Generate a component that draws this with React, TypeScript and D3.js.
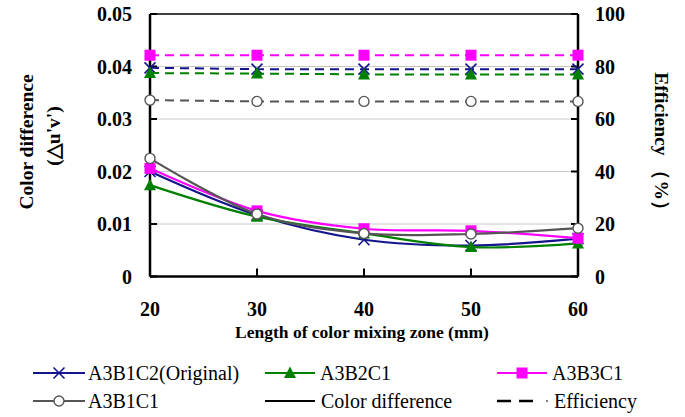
import React from "react";
import * as d3 from "d3";

const xValues = [20, 30, 40, 50, 60];
const leftTicks = [0, 0.01, 0.02, 0.03, 0.04, 0.05];
const leftTickLabels = ["0", "0.01", "0.02", "0.03", "0.04", "0.05"];
const rightTicks = [0, 20, 40, 60, 80, 100];

const seriesNames = ["A3B1C2(Original)", "A3B2C1", "A3B3C1", "A3B1C1"];
const seriesColors = ["#14148c", "#008000", "#ff00ff", "#555555"];
const seriesMarkers = ["x", "tri", "sq", "circ"];

const colorDiffA3B1C2 = [0.0200, 0.0117, 0.0070, 0.0059, 0.0072];
const colorDiffA3B2C1 = [0.0174, 0.0114, 0.0082, 0.0056, 0.0063];
const colorDiffA3B3C1 = [0.0206, 0.0125, 0.0091, 0.0087, 0.0073];
const colorDiffA3B1C1 = [0.0225, 0.0119, 0.0082, 0.0081, 0.0092];

const effA3B1C2 = [79.5, 79, 79, 79, 79];
const effA3B2C1 = [77.5, 77.3, 77, 77, 77];
const effA3B3C1 = [84.3, 84.3, 84.3, 84.3, 84.3];
const effA3B1C1 = [67.2, 66.7, 66.7, 66.7, 66.7];

const colorDiff = [colorDiffA3B1C2, colorDiffA3B2C1, colorDiffA3B3C1, colorDiffA3B1C1];
const efficiency = [effA3B1C2, effA3B2C1, effA3B3C1, effA3B1C1];

const L = 150, R = 578, T = 14, B = 276.5;
const FONT = '"Liberation Serif"';

function Marker({ type, x, y, color }: { type: string; x: number; y: number; color: string }) {
  const s = 5.5;
  if (type === "x")
    return (
      <g stroke={color} strokeWidth={1.6}>
        <line x1={x - s} y1={y - s} x2={x + s} y2={y + s} />
        <line x1={x - s} y1={y + s} x2={x + s} y2={y - s} />
      </g>
    );
  if (type === "tri")
    return <path d={`M${x},${y - 6.5}L${x + 6},${y + 5}L${x - 6},${y + 5}Z`} fill={color} />;
  if (type === "sq") return <rect x={x - 5.5} y={y - 5.5} width={11} height={11} fill={color} />;
  return <circle cx={x} cy={y} r={5} fill="white" stroke={color} strokeWidth={1.4} />;
}

export default function App() {
  const x = d3.scaleLinear().domain([20, 60]).range([L, R]);
  const yL = d3.scaleLinear().domain([0, 0.05]).range([B, T]);
  const yR = d3.scaleLinear().domain([0, 100]).range([B, T]);
  const lineL = d3
    .line<number>()
    .x((_, i) => x(xValues[i]))
    .y((d) => yL(d))
    .curve(d3.curveCatmullRom.alpha(0.5));
  const lineR = d3
    .line<number>()
    .x((_, i) => x(xValues[i]))
    .y((d) => yR(d));

  const legend = [
    { x: 33, w: 52, tx: 88, y: 373, kind: "s", idx: 0, label: seriesNames[0] },
    { x: 265, w: 50, tx: 320, y: 373, kind: "s", idx: 1, label: seriesNames[1] },
    { x: 497, w: 50, tx: 552, y: 373, kind: "s", idx: 2, label: seriesNames[2] },
    { x: 33, w: 52, tx: 88, y: 401, kind: "s", idx: 3, label: seriesNames[3] },
    { x: 265, w: 50, tx: 321, y: 401, kind: "solid", idx: -1, label: "Color difference" },
    { x: 497, w: 40, tx: 554, y: 401, kind: "dash", idx: -1, label: "Efficiency" },
  ];

  const ts = { fontFamily: FONT };

  return (
    <svg width={685} height={417} style={{ position: "absolute", left: 0, top: 0, background: "white", fontFamily: FONT }}>
      {leftTicks.slice(1, 5).map((t) => (
        <line key={t} x1={L} x2={R} y1={yL(t)} y2={yL(t)} stroke="#c8c8c8" strokeWidth={1} />
      ))}
      <line x1={L} x2={R} y1={T} y2={T} stroke="black" strokeWidth={1.5} />
      <line x1={L} x2={L} y1={T} y2={B} stroke="black" strokeWidth={2.5} />
      <line x1={R} x2={R} y1={T} y2={B} stroke="black" strokeWidth={2.5} />
      <line x1={L} x2={R} y1={B} y2={B} stroke="black" strokeWidth={2.5} />
      {leftTicks.map((t, i) => (
        <g key={"l" + t}>
          <line x1={L} x2={L + 7} y1={yL(t)} y2={yL(t)} stroke="black" strokeWidth={2} />
          <text style={ts} x={132} y={yL(t)} dy="0.35em" textAnchor="end" fontWeight="bold" fontSize={20}>
            {leftTickLabels[i]}
          </text>
        </g>
      ))}
      {rightTicks.map((t) => (
        <g key={"r" + t}>
          <line x1={R - 7} x2={R} y1={yR(t)} y2={yR(t)} stroke="black" strokeWidth={2} />
          <text style={ts} x={595} y={yR(t)} dy="0.35em" textAnchor="start" fontWeight="bold" fontSize={20}>
            {t}
          </text>
        </g>
      ))}
      {xValues.map((v) => (
        <g key={"x" + v}>
          <line x1={x(v)} x2={x(v)} y1={B} y2={B - 8} stroke="black" strokeWidth={2} />
          <text style={ts} x={x(v)} y={309} dy="0.35em" textAnchor="middle" fontWeight="bold" fontSize={20}>
            {v}
          </text>
        </g>
      ))}
      <text style={ts} x={362} y={332} dy="0.35em" textAnchor="middle" fontWeight="bold" fontSize={17.5}>
        Length of color mixing zone (mm)
      </text>
      <text style={ts} transform="translate(26,142) rotate(-90)" dy="0.35em" textAnchor="middle" fontWeight="bold" fontSize={19.5}>
        Color difference
      </text>
      <text style={ts} transform="translate(53,136) rotate(-90)" dy="0.35em" textAnchor="middle" fontWeight="bold" fontSize={19.5}>
        (△u'v')
      </text>
      <text style={ts} transform="translate(662,146) rotate(90)" dy="0.35em" textAnchor="middle" fontWeight="bold" fontSize={19.5}>
        Efficiency （%）
      </text>
      {efficiency.map((s, i) => (
        <g key={"e" + i}>
          <path d={lineR(s) || ""} fill="none" stroke={seriesColors[i]} strokeWidth={2} strokeDasharray="9,6" />
          {s.map((d, j) => (
            <Marker key={j} type={seriesMarkers[i]} x={x(xValues[j])} y={yR(d)} color={seriesColors[i]} />
          ))}
        </g>
      ))}
      {colorDiff.map((s, i) => (
        <g key={"c" + i}>
          <path d={lineL(s) || ""} fill="none" stroke={seriesColors[i]} strokeWidth={2.2} />
          {s.map((d, j) => (
            <Marker key={j} type={seriesMarkers[i]} x={x(xValues[j])} y={yL(d)} color={seriesColors[i]} />
          ))}
        </g>
      ))}
      {legend.map((it, k) => (
        <g key={"lg" + k}>
          {it.kind === "s" && (
            <>
              <line x1={it.x} x2={it.x + it.w} y1={it.y} y2={it.y} stroke={seriesColors[it.idx]} strokeWidth={2.2} />
              <Marker type={seriesMarkers[it.idx]} x={it.x + it.w / 2} y={it.y} color={seriesColors[it.idx]} />
            </>
          )}
          {it.kind === "solid" && <line x1={it.x} x2={it.x + it.w} y1={it.y} y2={it.y} stroke="black" strokeWidth={2.2} />}
          {it.kind === "dash" && (
            <>
              <line x1={it.x} x2={it.x + it.w} y1={it.y} y2={it.y} stroke="black" strokeWidth={2.5} strokeDasharray="14,8" />
              <circle cx={it.x + 50} cy={it.y} r={0.9} fill="#444" />
            </>
          )}
          <text style={ts} x={it.tx} y={it.y} dy="0.35em" fontSize={20}>
            {it.label}
          </text>
        </g>
      ))}
    </svg>
  );
}
